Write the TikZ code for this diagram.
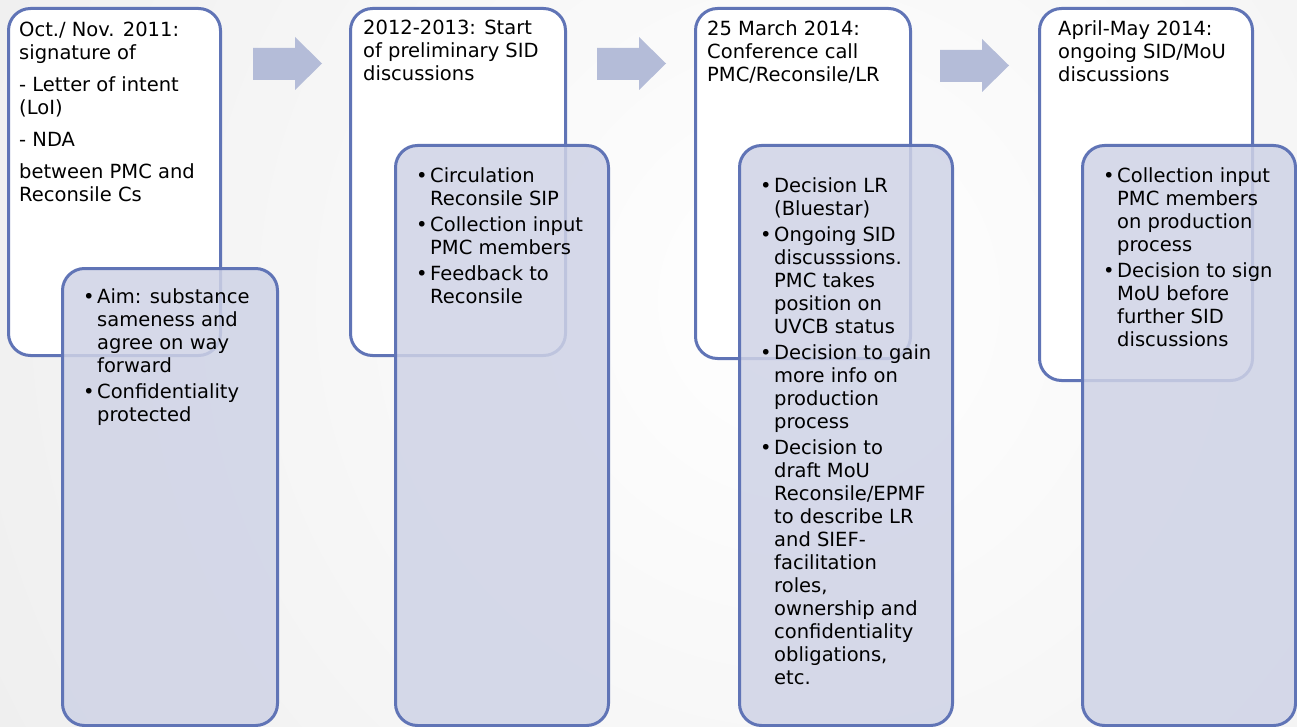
\documentclass[tikz,border=0pt]{standalone}
\usepackage{fontspec}
\setmainfont{DejaVu Sans}
\usetikzlibrary{positioning}
\definecolor{framecol}{RGB}{96,116,182}
\definecolor{notefill}{RGB}{207,211,230}
\definecolor{arrowfill}{RGB}{180,188,216}
\newcommand{\notebullet}{\makebox[14pt][l]{\textbullet}}
\newcommand{\noteindent}{\hspace*{14pt}}

\begin{document}
\begin{tikzpicture}[x=1pt, y=-1pt,
                    datebox/.style={draw=framecol, line width=3pt, fill=white,
                                    rounded corners=22pt, anchor=north west, inner sep=0pt},
                    notebox/.style={draw=framecol, line width=3pt, fill=notefill,
                                    fill opacity=0.85, draw opacity=1,
                                    rounded corners=22pt, anchor=north west, inner sep=0pt},
                    datetext/.style={anchor=north west, inner sep=0pt, align=left,
                                     font=\fontsize{19.5}{23}\selectfont},
                    flowarrow/.style={fill=arrowfill},]
    % background
    \useasboundingbox (0,0) rectangle (1297,727);
    \begin{scope}
        \clip (0,0) rectangle (1297,727);
        \shade[inner color=white, outer color=gray!22] (800,300) circle (1600);
    \end{scope}
    % boxes
    \node[datebox, minimum width=212pt, minimum height=347pt] (date1) at (7,7) {};
    \node[notebox, minimum width=215pt, minimum height=457pt] (note1) at (61,267) {};
    \node[datebox, minimum width=215pt, minimum height=347pt] (date2) at (349,7) {};
    \node[notebox, minimum width=213pt, minimum height=580pt] (note2) at (394,144) {};
    \node[datebox, minimum width=215pt, minimum height=350pt] (date3) at (694,7) {};
    \node[notebox, minimum width=213pt, minimum height=580pt] (note3) at (738,144) {};
    \node[datebox, minimum width=213pt, minimum height=372pt] (date4) at (1038,7) {};
    \node[notebox, minimum width=213pt, minimum height=580pt] (note4) at (1081,144) {};
    % arrows
    \fill[flowarrow] (253,48) -- (295,48) -- (295,37) -- (322,63.5) -- (295,90) -- (295,80) -- (253,80) -- cycle;
    \fill[flowarrow, shift={(344,0)}] (253,48) -- (295,48) -- (295,37) -- (322,63.5) -- (295,90) -- (295,80) -- (253,80) -- cycle;
    \fill[flowarrow, shift={(687,2)}] (253,48) -- (295,48) -- (295,37) -- (322,63.5) -- (295,90) -- (295,80) -- (253,80) -- cycle;
    % texts
    \node[datetext] (datetext1) at (19,22) {Oct./ Nov. 2011:\\ signature of\\[9pt]
        - Letter of intent\\ (LoI)\\[9pt] - NDA\\[9pt] between PMC and\\ Reconsile Cs};
    \node[datetext] (notetext1) at (83,288) {\notebullet Aim: substance\\ \noteindent sameness and\\
        \noteindent agree on way\\ \noteindent forward\\[3pt]
        \notebullet Confidentiality\\ \noteindent protected};
    \node[datetext] (datetext2) at (363,20) {2012-2013: Start\\ of preliminary SID\\ discussions};
    \node[datetext] (notetext2) at (416,167) {\notebullet Circulation\\ \noteindent Reconsile SIP\\[3pt]
        \notebullet Collection input\\ \noteindent PMC members\\[3pt]
        \notebullet Feedback to\\ \noteindent Reconsile};
    \node[datetext] (datetext3) at (707,20) {25 March 2014:\\ Conference call\\ PMC/Reconsile/LR};
    \node[datetext] (notetext3) at (760,177) {\notebullet Decision LR\\ \noteindent (Bluestar)\\[3pt]
        \notebullet Ongoing SID\\ \noteindent discusssions.\\ \noteindent PMC takes\\
        \noteindent position on\\ \noteindent UVCB status\\[3pt]
        \notebullet Decision to gain\\ \noteindent more info on\\ \noteindent production\\
        \noteindent process\\[3pt]
        \notebullet Decision to\\ \noteindent draft MoU\\ \noteindent Reconsile/EPMF\\
        \noteindent to describe LR\\ \noteindent and SIEF-\\ \noteindent facilitation\\
        \noteindent roles,\\ \noteindent ownership and\\ \noteindent confidentiality\\
        \noteindent obligations,\\ \noteindent etc.};
    \node[datetext] (datetext4) at (1058,20) {April-May 2014:\\ ongoing SID/MoU\\ discussions};
    \node[datetext] (notetext4) at (1103,167) {\notebullet Collection input\\ \noteindent PMC members\\
        \noteindent on production\\ \noteindent process\\[3pt]
        \notebullet Decision to sign\\ \noteindent MoU before\\ \noteindent further SID\\
        \noteindent discussions};
\end{tikzpicture}
\end{document}
